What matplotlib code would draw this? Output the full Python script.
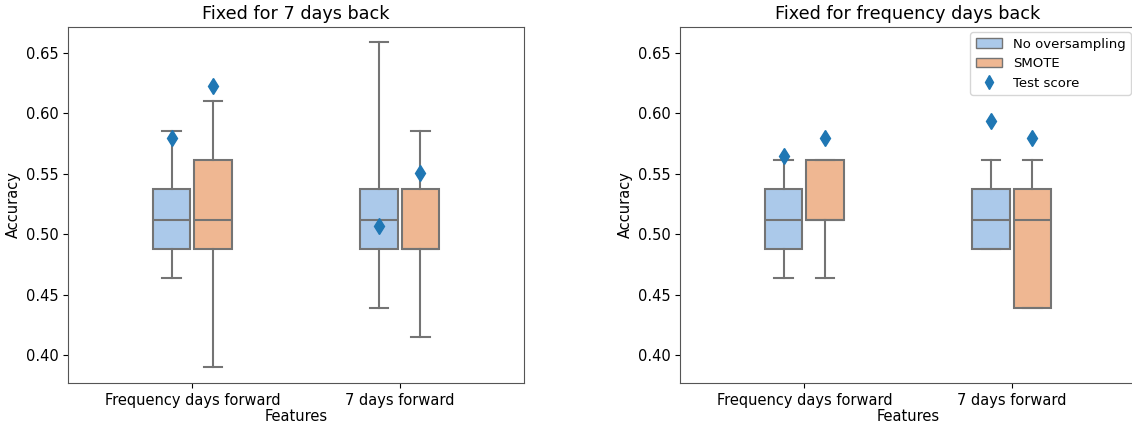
import numpy as np
import matplotlib
matplotlib.use("Agg")
import matplotlib.pyplot as plt
from matplotlib.patches import Patch
from matplotlib.lines import Line2D

# categories on the x axis and the two sampling methods (hue)
categories = ["Frequency days forward", "7 days forward"]
methods = ["No oversampling", "SMOTE"]

# panel 1: fixed for 7 days back
back7_none_whislo = [0.464, 0.439]
back7_none_q1 = [0.488, 0.488]
back7_none_med = [0.512, 0.512]
back7_none_q3 = [0.537, 0.537]
back7_none_whishi = [0.585, 0.659]
back7_smote_whislo = [0.390, 0.415]
back7_smote_q1 = [0.488, 0.488]
back7_smote_med = [0.512, 0.488]
back7_smote_q3 = [0.561, 0.537]
back7_smote_whishi = [0.610, 0.585]
back7_test_none = [0.580, 0.507]
back7_test_smote = [0.623, 0.551]

# panel 2: fixed for frequency days back
freq_none_whislo = [0.464, 0.488]
freq_none_q1 = [0.488, 0.488]
freq_none_med = [0.512, 0.512]
freq_none_q3 = [0.537, 0.537]
freq_none_whishi = [0.561, 0.561]
freq_smote_whislo = [0.464, 0.439]
freq_smote_q1 = [0.512, 0.439]
freq_smote_med = [0.512, 0.512]
freq_smote_q3 = [0.561, 0.537]
freq_smote_whishi = [0.561, 0.561]
freq_test_none = [0.565, 0.594]
freq_test_smote = [0.580, 0.580]

box_colors = ["#abc9ea", "#efb792"]
edge_gray = "#747474"
test_color = "#1f77b4"


def make_stats(whislo, q1, med, q3, whishi):
    stats = []
    for i in range(len(med)):
        stats.append({"whislo": whislo[i], "q1": q1[i], "med": med[i],
                      "q3": q3[i], "whishi": whishi[i], "fliers": []})
    return stats


def draw_panel(ax, title, groups, tests):
    x = np.arange(len(categories))
    offsets = [-0.1, 0.1]
    for k, stats in enumerate(groups):
        line = dict(color=edge_gray, linewidth=1.5)
        ax.bxp(stats, positions=x + offsets[k], widths=0.18, patch_artist=True,
               showfliers=False, manage_ticks=False,
               boxprops=dict(facecolor=box_colors[k], edgecolor=edge_gray, linewidth=1.5),
               medianprops=line, whiskerprops=line, capprops=line)
        ax.plot(x + offsets[k], tests[k], linestyle="none", marker="d",
                markersize=8.5, color=test_color, zorder=5)
    ax.set_xticks(x)
    ax.set_xticklabels(categories, fontsize=10.5)
    ax.set_xlim(-0.6, 1.6)
    ax.set_ylim(0.3768, 0.6715)
    ax.set_yticks([0.40, 0.45, 0.50, 0.55, 0.60, 0.65])
    ax.tick_params(axis="y", labelsize=10.5)
    ax.set_title(title, fontsize=12.7)
    ax.set_xlabel("Features", fontsize=10.5, labelpad=1)
    ax.set_ylabel("Accuracy", fontsize=10.5, labelpad=3)
    for s in ax.spines.values():
        s.set_color("#555555")


def main():
    fig = plt.figure(figsize=(11.32, 4.23), dpi=100)
    ax1 = fig.add_axes([68 / 1132, 40 / 423, 456 / 1132, 356 / 423])
    ax2 = fig.add_axes([680 / 1132, 40 / 423, 456 / 1132, 356 / 423])

    draw_panel(ax1, "Fixed for 7 days back",
               [make_stats(back7_none_whislo, back7_none_q1, back7_none_med, back7_none_q3, back7_none_whishi),
                make_stats(back7_smote_whislo, back7_smote_q1, back7_smote_med, back7_smote_q3, back7_smote_whishi)],
               [back7_test_none, back7_test_smote])
    draw_panel(ax2, "Fixed for frequency days back",
               [make_stats(freq_none_whislo, freq_none_q1, freq_none_med, freq_none_q3, freq_none_whishi),
                make_stats(freq_smote_whislo, freq_smote_q1, freq_smote_med, freq_smote_q3, freq_smote_whishi)],
               [freq_test_none, freq_test_smote])

    handles = [Patch(facecolor=box_colors[0], edgecolor=edge_gray, label=methods[0]),
               Patch(facecolor=box_colors[1], edgecolor=edge_gray, label=methods[1]),
               Line2D([], [], linestyle="none", marker="d", markersize=7.5,
                      color=test_color, label="Test score")]
    ax2.legend(handles=handles, loc="upper right", fontsize=9.5, borderaxespad=0.4)

    fig.savefig("out.png", dpi=100)


if __name__ == "__main__":
    main()
